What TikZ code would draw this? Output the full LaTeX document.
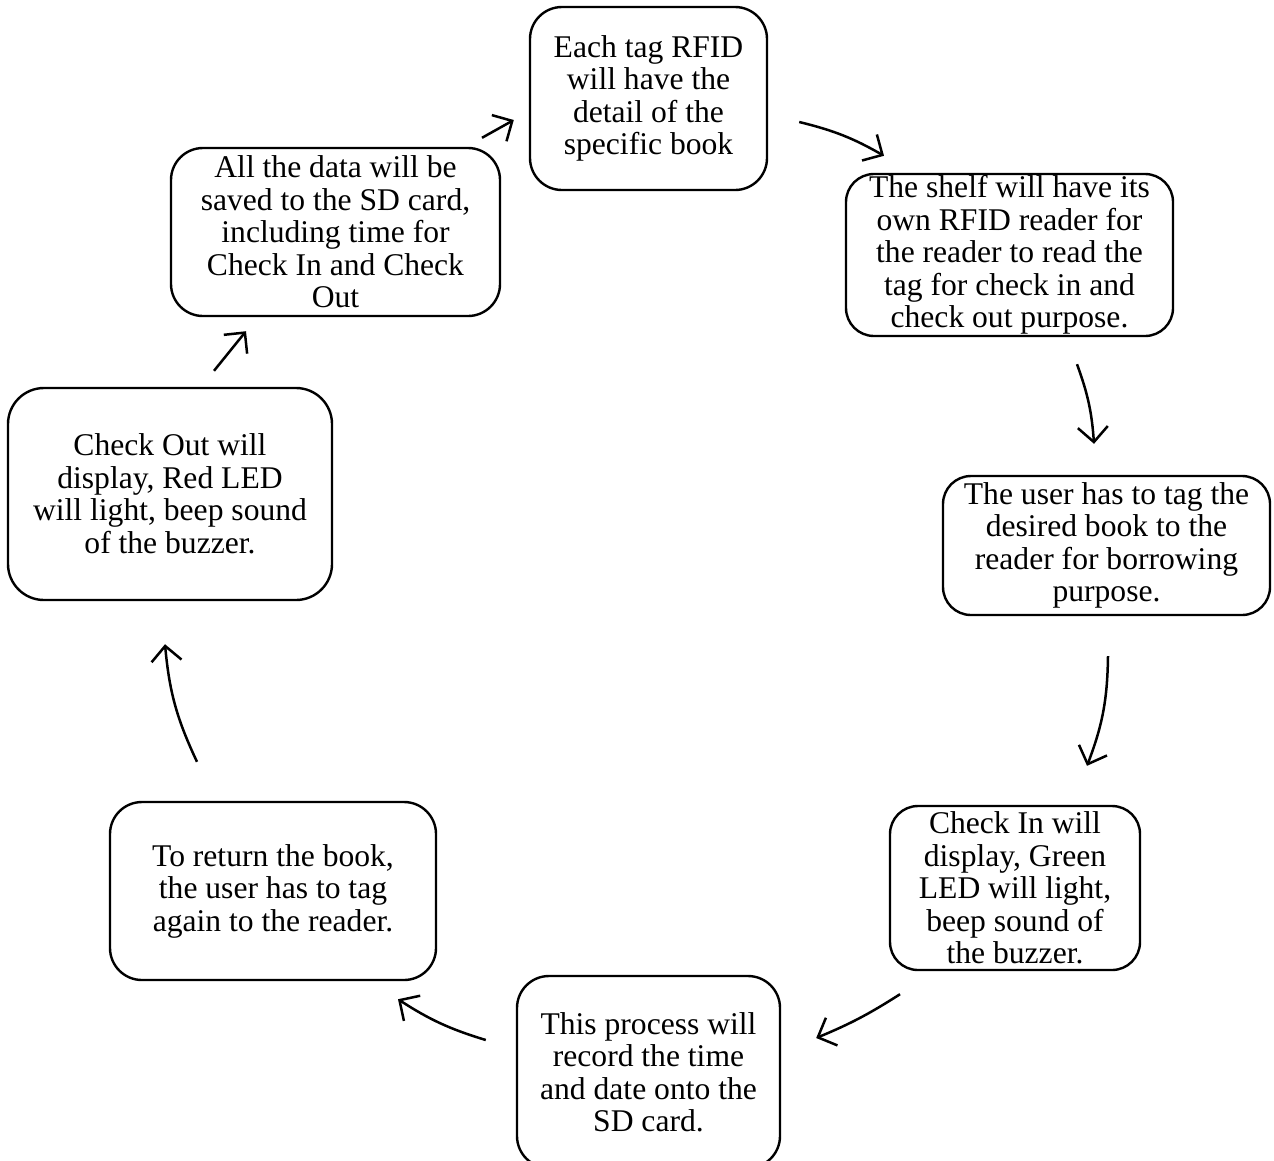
\documentclass[tikz,border=0pt]{standalone}
\usepackage{fontspec}
\setmainfont{Liberation Serif}
\usetikzlibrary{arrows.meta,calc}
\begin{document}
\begin{tikzpicture}[x=1pt,y=-1pt,
  box/.style={draw=black,line width=2.4pt,rounded corners=32pt,align=center,
    inner sep=0pt,font=\fontsize{31.6}{32.5}\selectfont},
  arr/.style={line width=2.5pt,-{Straight Barb[length=15pt,width=30pt,line width=2.5pt]}}]
\useasboundingbox (0,0) rectangle (1274,1160);
\node[box,minimum width=237pt,minimum height=183pt] (n1) at (648.5,98.5)
  {Each tag RFID\\will have the\\detail of the\\specific book};
\node[box,minimum width=327pt,minimum height=162pt,rounded corners=28pt] (n2) at (1009.5,255)
  {The shelf will have its\\own RFID reader for\\the reader to read the\\tag for check in and\\check out purpose.};
\node[box,minimum width=327pt,minimum height=139pt,rounded corners=28pt] (n3) at (1106.5,545.5)
  {The user has to tag the\\desired book to the\\reader for borrowing\\purpose.};
\node[box,minimum width=250pt,minimum height=164pt,rounded corners=28pt] (n4) at (1015,888)
  {Check In will\\display, Green\\LED will light,\\beep sound of\\the buzzer.};
\node[box,minimum width=263pt,minimum height=192pt] (n5) at (648.5,1072)
  {This process will\\record the time\\and date onto the\\SD card.};
\node[box,minimum width=326pt,minimum height=178pt] (n6) at (273,891)
  {To return the book,\\the user has to tag\\again to the reader.};
\node[box,minimum width=324pt,minimum height=212pt,rounded corners=36pt] (n7) at (170,494)
  {Check Out will\\display, Red LED\\will light, beep sound\\of the buzzer.};
\node[box,minimum width=329pt,minimum height=168pt] (n8) at (335.5,232)
  {All the data will be\\saved to the SD card,\\including time for\\Check In and Check\\Out};
% arrow end points, placed relative to the boxes
\coordinate (a1s) at ($(n1.east)+(31,23.5)$);
\coordinate (a1e) at ($(n2.north)+(-125.5,-17)$);
\coordinate (a2s) at ($(n2.south)+(67.5,27)$);
\coordinate (a2e) at ($(n3.north)+(-12.5,-31)$);
\coordinate (a3s) at ($(n3.south)+(1.5,40)$);
\coordinate (a3e) at ($(n4.north)+(72,-39)$);
\coordinate (a4s) at ($(n4.south)+(-115,23)$);
\coordinate (a4e) at ($(n5.east)+(35,-34)$);
\coordinate (a5s) at ($(n5.west)+(-30,-32)$);
\coordinate (a5e) at ($(n6.south)+(125,18)$);
\coordinate (a6s) at ($(n6.north)+(-76,-39)$);
\coordinate (a6e) at ($(n7.south)+(-5,43)$);
\coordinate (a7s) at ($(n7.north)+(44,-16)$);
\coordinate (a7e) at ($(n8.south)+(-89.5,14)$);
\coordinate (a8s) at ($(n8.north)+(146.5,-9)$);
\coordinate (a8e) at ($(n1.west)+(-15,21.5)$);
\draw[arr] (a1s) to[bend left=8] (a1e);
\draw[arr] (a2s) to[bend left=8] (a2e);
\draw[arr] (a3s) to[bend left=10] (a3e);
\draw[arr] (a4s) to[bend left=5] (a4e);
\draw[arr] (a5s) to[bend left=8] (a5e);
\draw[arr] (a6s) to[bend left=10] (a6e);
\draw[arr] (a7s) -- (a7e);
\draw[arr] (a8s) -- (a8e);
\end{tikzpicture}
\end{document}
